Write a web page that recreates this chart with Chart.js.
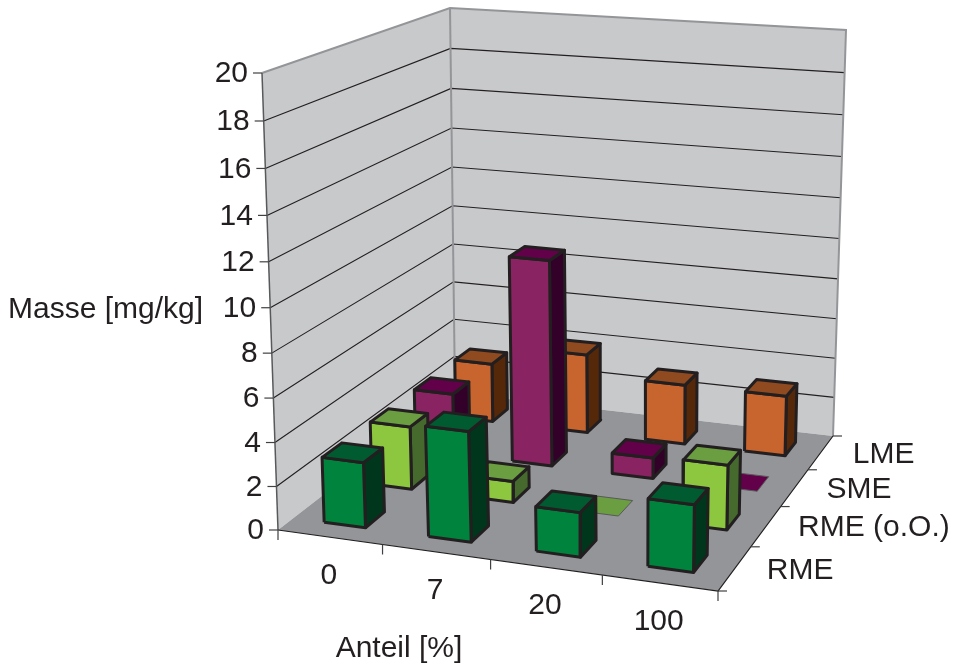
<!DOCTYPE html>
<html>
<head>
<meta charset="utf-8">
<title>Masse</title>
<script src="https://cdn.jsdelivr.net/npm/chart.js@4/dist/chart.umd.js"></script>
<style>
  html, body { margin: 0; padding: 0; background: #fff; }
  canvas { display: block; }
</style>
</head>
<body>
<canvas id="chart" width="955" height="666"></canvas>
<script>
const categories = ["0", "7", "20", "100"];
const seriesNames = ["RME", "RME (o.O.)", "SME", "LME"];
const valueTicks = [0, 2, 4, 6, 8, 10, 12, 14, 16, 18, 20];

const rme = [3, 5, 2, 3];
const rmeOhne = [3, 1, 0, 3];
const sme = [3, 10, 1, 0];
const lme = [3, 4, 3, 3];
const seriesValues = [rme, rmeOhne, sme, lme];

const faceColors = [
  { front: "#00843d", top: "#005c30", side: "#00361c" },
  { front: "#8dc63f", top: "#6a9e41", side: "#466a2e" },
  { front: "#8a2362", top: "#63004a", side: "#33002a" },
  { front: "#c8642e", top: "#904a1f", side: "#56280a" }
];

const TEXT = "#231f20";
const zMax = 20;

// projection of the 3d box onto the canvas: corners
const floorQuad = [[278, 530], [718, 591], [833, 436], [455, 393]];
const topQuad = [[262, 73], [727, 109], [846, 30], [450, 8]];

function squareToQuad(q) {
  const [[x0, y0], [x1, y1], [x2, y2], [x3, y3]] = q;
  const dx1 = x1 - x2, dx2 = x3 - x2, sx = x0 - x1 + x2 - x3;
  const dy1 = y1 - y2, dy2 = y3 - y2, sy = y0 - y1 + y2 - y3;
  const det = dx1 * dy2 - dx2 * dy1;
  const g = (sx * dy2 - dx2 * sy) / det;
  const h = (dx1 * sy - sx * dy1) / det;
  return (u, v) => {
    const w = g * u + h * v + 1;
    return [
      ((x1 - x0 + g * x1) * u + (x3 - x0 + h * x3) * v + x0) / w,
      ((y1 - y0 + g * y1) * u + (y3 - y0 + h * y3) * v + y0) / w
    ];
  };
}

const floorH = squareToQuad(floorQuad);
const topH = squareToQuad(topQuad);

// u = category position, v = series position, z = value
function project(u, v, z) {
  const s = z / zMax;
  const t = s / (s + 1.056 * (1 - s));
  const a = floorH(u / categories.length, v / seriesNames.length);
  const b = topH(u / categories.length, v / seriesNames.length);
  return { x: a[0] + (b[0] - a[0]) * t, y: a[1] + (b[1] - a[1]) * t };
}

function polygon(points, fillColor, lineColor, lineWidth) {
  return {
    data: [...points, points[0]],
    showLine: true,
    fill: "shape",
    backgroundColor: fillColor,
    borderColor: lineColor,
    borderWidth: lineWidth,
    borderJoinStyle: "round",
    pointRadius: 0,
    tension: 0
  };
}

function line(points, color, width) {
  return {
    data: points,
    showLine: true,
    fill: false,
    borderColor: color,
    borderWidth: width,
    pointRadius: 0,
    tension: 0
  };
}

function shift(p, dx, dy) {
  return { x: p.x + dx, y: p.y + dy };
}

const nC = categories.length;
const nS = seriesNames.length;
const marks = [];

// walls and floor
marks.push(polygon([project(0, 0, 0), project(0, nS, 0), project(0, nS, zMax), project(0, 0, zMax)], "#c8c9cb", "#c8c9cb", 0));
marks.push(polygon([project(0, nS, 0), project(nC, nS, 0), project(nC, nS, zMax), project(0, nS, zMax)], "#c8c9cb", "#c8c9cb", 0));
marks.push(polygon([project(0, 0, 0), project(nC, 0, 0), project(nC, nS, 0), project(0, nS, 0)], "#939598", "#939598", 0));

// grid lines
valueTicks.forEach(z => {
  if (z === 0 || z === zMax) return;
  marks.push(line([project(0, 0, z), project(0, nS, z), project(nC, nS, z)], "#231f20", 1.1));
});

// wall edges
marks.push(line([project(0, 0, zMax), project(0, nS, zMax), project(nC, nS, zMax), project(nC, nS, 0)], "#939598", 2));
marks.push(line([project(0, nS, zMax), project(0, nS, 0)], "#939598", 2));
marks.push(line([project(0, 0, 0), project(0, 0, zMax)], "#58595b", 1.5));

// axis lines and ticks
marks.push(line([project(0, 0, 0), project(nC, 0, 0), project(nC, nS, 0)], "#231f20", 1.2));
valueTicks.forEach(z => {
  const p = project(0, 0, z);
  marks.push(line([shift(p, -9, 0), p], "#414042", 1.2));
});
for (let i = 0; i <= nC; i++) {
  const p = project(i, 0, 0);
  marks.push(line([p, shift(p, 0, 10)], "#414042", 1.2));
}
for (let j = 0; j <= nS; j++) {
  const p = project(nC, j, 0);
  marks.push(line([p, shift(p, 9, 0)], "#414042", 1.2));
}

// bars, back row first and left to right so nearer bars cover farther ones
for (let j = nS - 1; j >= 0; j--) {
  seriesValues[j].forEach((val, i) => {
    const c = faceColors[j];
    const u0 = i + 0.3, u1 = i + 0.7, v0 = j + 0.3, v1 = j + 0.7;
    if (val > 0) {
      marks.push(polygon([project(u1, v0, 0), project(u1, v1, 0), project(u1, v1, val), project(u1, v0, val)], c.side, TEXT, 3));
      marks.push(polygon([project(u0, v0, 0), project(u1, v0, 0), project(u1, v0, val), project(u0, v0, val)], c.front, TEXT, 3));
    }
    marks.push(polygon([project(u0, v0, val), project(u1, v0, val), project(u1, v1, val), project(u0, v1, val)], c.top, val > 0 ? TEXT : "#58595b", val > 0 ? 3 : 1));
  });
}

const labelPlugin = {
  id: "labels",
  afterDraw(chart) {
    const ctx = chart.ctx;
    ctx.save();
    ctx.fillStyle = TEXT;
    ctx.font = '30px "Liberation Sans"';
    ctx.textBaseline = "middle";

    ctx.textAlign = "right";
    valueTicks.forEach(z => {
      const p = project(0, 0, z);
      ctx.fillText(String(z), p.x - 14, p.y + 1);
    });

    ctx.textAlign = "center";
    categories.forEach((name, i) => {
      const p = project(i + 0.5, 0, 0);
      ctx.fillText(name, p.x - 1, p.y + 39);
    });

    ctx.textAlign = "left";
    seriesNames.forEach((name, j) => {
      const p = project(nC, j + 0.5, 0);
      ctx.fillText(name, p.x + 32, p.y + 2);
    });

    ctx.fillText("Masse [mg/kg]", 8, 310);
    ctx.textAlign = "center";
    ctx.fillText("Anteil [%]", 399, 649);
    ctx.restore();
  }
};

new Chart(document.getElementById("chart"), {
  type: "scatter",
  // chart.js paints the first dataset last
  data: { datasets: marks.reverse() },
  options: {
    responsive: false,
    animation: false,
    layout: { padding: 0 },
    plugins: { legend: { display: false }, tooltip: { enabled: false } },
    scales: {
      x: { type: "linear", display: false, min: 0, max: 955 },
      y: { type: "linear", display: false, min: 0, max: 666, reverse: true }
    }
  },
  plugins: [labelPlugin]
});
</script>
</body>
</html>
